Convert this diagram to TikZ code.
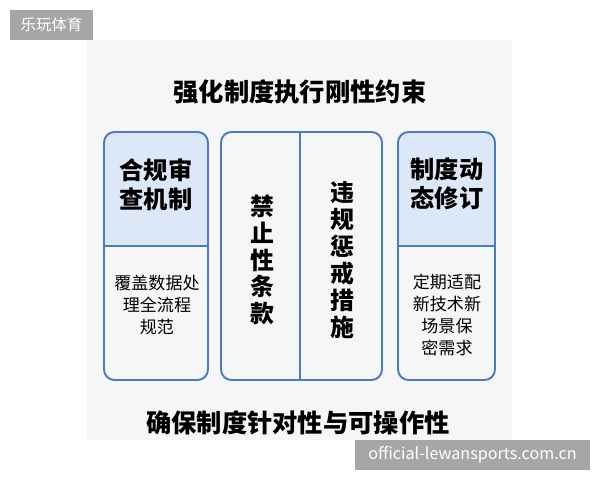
\documentclass[tikz,border=0pt]{standalone}
\usepackage{fontspec}
\setmainfont{Noto Sans CJK SC}
\usetikzlibrary{positioning}

\definecolor{boxblue}{HTML}{4A7BBF}
\definecolor{headblue}{HTML}{DCE7F7}
\definecolor{panel}{HTML}{F4F6F8}
\definecolor{markgray}{HTML}{A6A6A6}

\begin{document}
\begin{tikzpicture}[x=0.02cm,y=-0.02cm,
    frame/.style={draw=boxblue,line width=1.1pt,rounded corners=6pt},
    rule/.style={draw=boxblue,line width=1.1pt},
    big/.style={font=\fontsize{14.4}{16.5}\selectfont\bfseries},
    head/.style={font=\fontsize{13.8}{16.6}\selectfont\bfseries,align=center,inner sep=0pt},
    note/.style={font=\fontsize{9.7}{12.4}\selectfont,align=center,inner sep=0pt},
    column/.style={font=\fontsize{13.6}{15.3}\selectfont\bfseries,align=center,inner sep=0pt},
    tag/.style={fill=markgray,text=white,inner sep=0pt}]

    %\draw [help lines] (0,0) grid (600,480);
    \useasboundingbox (0,0) rectangle (600,480);
    \fill[white] (0,0) rectangle (600,480);
    \fill[panel] (87,40) rectangle (512,440);

    % header fills
    \begin{scope}
        \clip (104,132) rectangle (208,246);
        \fill[headblue,rounded corners=6pt] (104,132) rectangle (208,380);
    \end{scope}
    \begin{scope}
        \clip (398,132) rectangle (495,246);
        \fill[headblue,rounded corners=6pt] (398,132) rectangle (495,380);
    \end{scope}

    % frames
    \draw[frame] (104,132) rectangle (208,380);
    \draw[frame] (221,132) rectangle (382,380);
    \draw[frame] (398,132) rectangle (495,380);
    \draw[rule] (104,246) -- (208,246);
    \draw[rule] (398,246) -- (495,246);
    \draw[rule] (300,132) -- (300,380);

    \path   (300,92)  node (title)  [big] {强化制度执行刚性约束}
            (156,185) node (audit)  [head] {合规审\\查机制}
            (157,305) node (cover)  [note] {覆盖数据处\\理全流程\\规范}
            (262,260) node (ban)    [column] {禁\\止\\性\\条\\款}
            (342,260) node (punish) [column] {违\\规\\惩\\戒\\措\\施}
            (447,184) node (revise) [head] {制度动\\态修订}
            (447,315) node (adapt)  [note] {定期适配\\新技术新\\场景保\\密需求}
            (298,423) node (aim)    [big] {确保制度针对性与可操作性};

    % watermarks
    \path   (51.5,25) node (brand) [tag,minimum width=1.66cm,minimum height=0.6cm,
                font=\fontsize{8.8}{10}\selectfont] {乐玩体育}
            (472.5,455) node (site) [tag,minimum width=4.7cm,minimum height=0.6cm,
                font=\fontsize{9.2}{10}\selectfont] {official-lewansports.com.cn};
\end{tikzpicture}
\end{document}
